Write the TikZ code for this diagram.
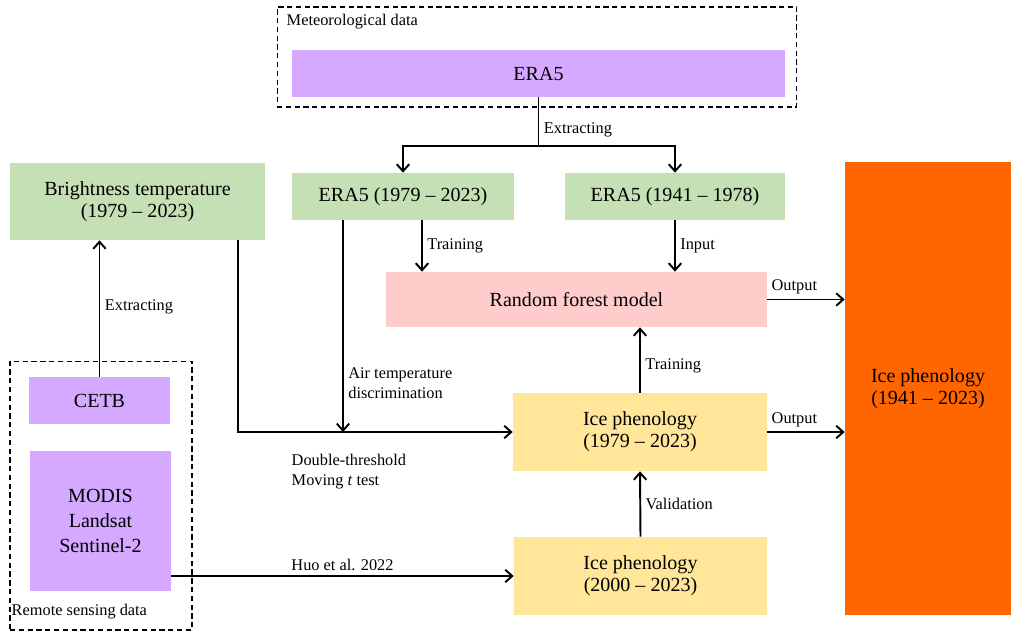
\documentclass[tikz,border=0pt]{standalone}
\usepackage{fontspec}
\setmainfont{Liberation Serif}
\usetikzlibrary{positioning, arrows.meta}
\definecolor{lilac}{HTML}{D4A9FF}
\definecolor{sage}{HTML}{C5E0B4}
\definecolor{rose}{HTML}{FFCCCC}
\definecolor{sand}{HTML}{FFE699}
\definecolor{flame}{HTML}{FF6600}
\tikzset{
  >={Straight Barb[length=1.4mm, width=2.5mm]},
  blk/.style={inner sep=0pt, align=center, font=\fontsize{11.4}{12.6}\selectfont},
  lbl/.style={inner sep=2.5pt, align=left, font=\fontsize{9.3}{11.4}\selectfont},
  grp/.style={draw, dash pattern=on 3pt off 2pt, line width=0.6pt, inner sep=0pt},
  conn/.style={line width=1.1pt},
}

\begin{document}
\begin{tikzpicture}[x=0.02cm, y=-0.02cm]
  \useasboundingbox (0,0) rectangle (1011,632);

  % groups
  \node[grp, minimum width=10.4cm, minimum height=2cm] (met) at (537,57) {};
  \node[lbl, anchor=west] (metlbl) at (282,22) {Meteorological data};
  \node[grp, minimum width=3.64cm, minimum height=5.38cm] (rs) at (101,495.5) {};
  \node[lbl, anchor=west] (rslbl) at (7,612) {Remote sensing data};

  % boxes
  \node[blk, fill=lilac, minimum width=9.86cm, minimum height=0.94cm] (era) at (538.5,73.5) {ERA5};
  \node[blk, fill=sage, minimum width=4.44cm, minimum height=0.94cm] (era79) at (403,196.5) {ERA5 (1979 -- 2023)};
  \node[blk, fill=sage, minimum width=4.4cm, minimum height=0.94cm] (era41) at (675,196.5) {ERA5 (1941 -- 1978)};
  \node[blk, fill=sage, minimum width=5.1cm, minimum height=1.54cm] (bt) at (137.5,201.5) {Brightness temperature\\(1979 -- 2023)};
  \node[blk, fill=rose, minimum width=7.62cm, minimum height=1.1cm] (rf) at (576.5,299.5) {Random forest model};
  \node[blk, fill=flame, minimum width=3.32cm, minimum height=9.06cm] (ice) at (928,388.5) {Ice phenology\\(1941 -- 2023)};
  \node[blk, fill=sand, minimum width=5.08cm, minimum height=1.56cm] (ice79) at (640,432) {Ice phenology\\(1979 -- 2023)};
  \node[blk, fill=sand, minimum width=5.06cm, minimum height=1.56cm] (ice00) at (640.5,576) {Ice phenology\\(2000 -- 2023)};
  \node[blk, fill=lilac, minimum width=2.82cm, minimum height=0.94cm] (cetb) at (99.5,400.5) {CETB};
  \node[blk, fill=lilac, minimum width=2.82cm, minimum height=2.8cm,
        font=\fontsize{11.4}{14.2}\selectfont] (modis) at (100.5,521) {MODIS\\Landsat\\Sentinel-2};

  % connectors
  \draw[conn] (era.south) -- node[lbl, right, pos=0.66] {Extracting} ++(0,49) coordinate (split);
  \draw[conn, ->] (split) -| (era79.north);
  \draw[conn, ->] (split) -| (era41.north);
  \draw[conn, ->] ([xshift=0.38cm]era79.south) -- node[lbl, right] {Training} ([xshift=0.38cm]era79.south |- rf.north);
  \draw[conn, ->] (era41.south) -- node[lbl, right] {Input} (era41.south |- rf.north);
  \draw[conn, ->] ([xshift=-1.2cm]era79.south) -- node[lbl, right, pos=0.77] {Air temperature\\discrimination} ([xshift=-1.2cm]era79.south |- ice79.west);
  \draw[conn, ->] ([xshift=-0.54cm]bt.south east) |- (ice79.west);
  \node[lbl, anchor=north west] (dt) at (287,449) {Double-threshold\\Moving \textit{t} test};
  \draw[conn, ->] (cetb.north) -- node[lbl, right, pos=0.51] {Extracting} (cetb.north |- bt.south);
  \draw[conn, ->] (modis.east |- ice00.west) -- node[lbl, above] {Huo et al. 2022} (ice00.west);
  \draw[conn, ->] (ice00.north) -- node[lbl, right] {Validation} (ice79.south);
  \draw[conn, ->] (ice79.north) -- node[lbl, right, pos=0.41] {Training} (ice79.north |- rf.south);
  \draw[conn, ->] (rf.east) -- node[lbl, above, pos=0.35] {Output} (rf.east -| ice.west);
  \draw[conn, ->] (ice79.east) -- node[lbl, above, pos=0.35] {Output} (ice79.east -| ice.west);
\end{tikzpicture}
\end{document}
